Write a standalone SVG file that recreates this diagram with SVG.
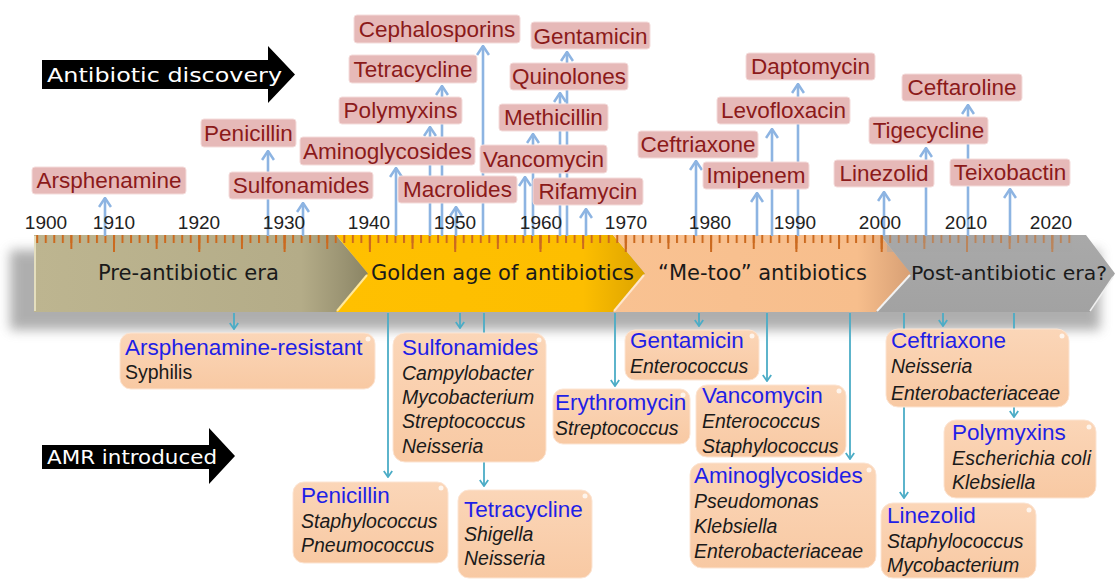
<svg xmlns="http://www.w3.org/2000/svg" width="1116" height="579" viewBox="0 0 1116 579">
<defs>
<style>
.tb{fill:#E6B9B8;stroke:#F4DCDB;stroke-width:1}
.tt{font-family:"Liberation Sans",Arial,sans-serif;font-size:22.5px;fill:#8B1A1A;text-anchor:middle}
.yr{font-family:"Liberation Sans",Arial,sans-serif;font-size:19px;fill:#222;text-anchor:middle}
.era{font-family:"DejaVu Sans",Verdana,sans-serif;font-size:22px;fill:#1a1a1a}
.pb{fill:url(#peach);stroke:#FCE4D2;stroke-width:1}
.bt{font-family:"Liberation Sans",Arial,sans-serif;font-size:22.5px;fill:#1F1FE6}
.sp{font-family:"Liberation Sans",Arial,sans-serif;font-size:19.5px;font-style:italic;fill:#1a1a1a}
.sr{font-family:"Liberation Sans",Arial,sans-serif;font-size:19.5px;fill:#1a1a1a}
.ca{stroke:#8DB4E2;stroke-width:2.6;fill:none;marker-end:url(#ma)}
.cb{stroke:#4BACC6;stroke-width:1.8;fill:none}
.cba{marker-end:url(#mb)}
.bl{font-family:"DejaVu Sans",sans-serif;fill:#fff;font-size:20px}
.glint{fill:#fff;opacity:0.75}
</style>
<marker id="ma" viewBox="0 0 12 14" refX="10.5" refY="7" markerWidth="12" markerHeight="14" markerUnits="userSpaceOnUse" orient="auto">
<path d="M1.5,1 L10.5,7 L1.5,13" fill="none" stroke="#8DB4E2" stroke-width="2.6"/>
</marker>
<marker id="mb" viewBox="0 0 8 10" refX="7" refY="5" markerWidth="8" markerHeight="10" markerUnits="userSpaceOnUse" orient="auto">
<path d="M1,0.8 L7,5 L1,9.2" fill="none" stroke="#4BACC6" stroke-width="1.8"/>
</marker>
<linearGradient id="peach" x1="0" y1="0" x2="0" y2="1">
<stop offset="0" stop-color="#FBD6B8"/>
<stop offset="1" stop-color="#F8C9A3"/>
</linearGradient>
<linearGradient id="gKhaki" x1="0" y1="0" x2="1" y2="0">
<stop offset="0" stop-color="#BDB590"/>
<stop offset="0.8" stop-color="#B4AC88"/>
<stop offset="0.93" stop-color="#9A9372"/>
<stop offset="1" stop-color="#8A8464"/>
</linearGradient>
<linearGradient id="gGold" x1="0" y1="0" x2="1" y2="0">
<stop offset="0" stop-color="#FFC000"/>
<stop offset="0.8" stop-color="#FDBE00"/>
<stop offset="1" stop-color="#DCA300"/>
</linearGradient>
<linearGradient id="gPeach" x1="0" y1="0" x2="1" y2="0">
<stop offset="0" stop-color="#F9C292"/>
<stop offset="0.82" stop-color="#F7BE8C"/>
<stop offset="1" stop-color="#D79F74"/>
</linearGradient>
<linearGradient id="gGray" x1="0" y1="0" x2="0" y2="1">
<stop offset="0" stop-color="#A9A9A9"/>
<stop offset="1" stop-color="#A2A2A2"/>
</linearGradient>
<filter id="blur" x="-5%" y="-30%" width="110%" height="160%">
<feGaussianBlur stdDeviation="6"/>
</filter>
<pattern id="tickS" patternUnits="userSpaceOnUse" x="36.23" y="235" width="8.53" height="8">
<rect x="0" y="0" width="2" height="8" fill="#CB6A1F"/>
</pattern>
<pattern id="tickM" patternUnits="userSpaceOnUse" x="27.7" y="235" width="42.65" height="14">
<rect x="0" y="0" width="2" height="14" fill="#CB6A1F"/>
</pattern>
<pattern id="tickL" patternUnits="userSpaceOnUse" x="27.7" y="235" width="85.3" height="17">
<rect x="0" y="0" width="2" height="17" fill="#CB6A1F"/>
</pattern>
</defs>

<rect x="0" y="0" width="1116" height="579" fill="#ffffff"/>

<!-- timeline band -->
<g id="timeline">
<rect x="10" y="250" width="1090" height="80" fill="#7a7a7a" opacity="0.6" filter="url(#blur)"/>
<g id="era-pre">
<path d="M34,235 L336,235 L368,273.5 L336,312 L34,312 Z" fill="url(#gKhaki)"/>
<path d="M35,236 V311" stroke="#E4DEBE" stroke-width="2"/>
<text class="era" x="98" y="280" textLength="181" lengthAdjust="spacingAndGlyphs">Pre-antibiotic era</text>
</g>
<g id="era-golden">
<path d="M336,235 L613,235 L645,273.5 L613,312 L336,312 L368,273.5 Z" fill="url(#gGold)"/>
<path d="M337,311 L367,275" stroke="#FFE89A" stroke-width="2"/>
<text class="era" x="371" y="280" textLength="263" lengthAdjust="spacingAndGlyphs">Golden age of antibiotics</text>
</g>
<g id="era-metoo">
<path d="M613,235 L880,235 L911,273.5 L880,312 L613,312 L645,273.5 Z" fill="url(#gPeach)"/>
<path d="M614,311 L644,275" stroke="#FFE6CC" stroke-width="2"/>
<text class="era" x="658" y="280" textLength="209" lengthAdjust="spacingAndGlyphs">“Me-too” antibiotics</text>
</g>
<g id="era-post">
<path d="M880,235 L1086,235 L1115,273.5 L1090,312 L876,312 L911,273.5 Z" fill="url(#gGray)"/>
<path d="M877,311 L910,275" stroke="#F2F2F2" stroke-width="2"/>
<path d="M1090,311 L1113,277" stroke="#F0F0F0" stroke-width="1.5"/>
<text class="era" x="911" y="280" style="font-size:20px" textLength="196" lengthAdjust="spacingAndGlyphs">Post-antibiotic era?</text>
</g>
<g id="ruler">
<rect x="36" y="235" width="1036" height="8" fill="url(#tickS)"/>
<rect x="36" y="235" width="1036" height="14" fill="url(#tickM)"/>
<rect x="36" y="235" width="1036" height="17" fill="url(#tickL)"/>
<path d="M887,235 L1072,235 L1072,252 L887,252 Z" fill="#A6A6A6" opacity="0.45"/>
</g>
</g>

<!-- connectors -->
<g id="connectors">
<path class="ca" d="M105,236 V198"/>
<path class="ca" d="M268,236 V151"/>
<path class="ca" d="M303,236 V203"/>
<path class="ca" d="M396,236 V168"/>
<path class="ca" d="M430,236 V127"/>
<path class="ca" d="M442,236 V86"/>
<path class="ca" d="M456,236 V207"/>
<path class="ca" d="M483,236 V46"/>
<path class="ca" d="M525,236 V177"/>
<path class="ca" d="M533,236 V134"/>
<path class="ca" d="M560,236 V93"/>
<path class="ca" d="M567,236 V52"/>
<path class="ca" d="M586,236 V209"/>
<path class="ca" d="M696,236 V161"/>
<path class="ca" d="M757,236 V193"/>
<path class="ca" d="M772,236 V129"/>
<path class="ca" d="M798,236 V84"/>
<path class="ca" d="M884,236 V192"/>
<path class="ca" d="M926,236 V148"/>
<path class="ca" d="M968,236 V105"/>
<path class="ca" d="M1010,236 V189"/>

<path class="cb cba" d="M234,313 V329"/>
<path class="cb cba" d="M388,313 V477"/>
<path class="cb cba" d="M460,313 V328"/>
<path class="cb cba" d="M484,313 V486"/>
<path class="cb cba" d="M615,313 V386"/>
<path class="cb cba" d="M699,313 V326"/>
<path class="cb cba" d="M767,313 V381"/>
<path class="cb cba" d="M850,313 V459"/>
<path class="cb cba" d="M904,313 V498"/>
<path class="cb cba" d="M943,313 V326"/>
<path class="cb cba" d="M1014,313 V417"/>
</g>

<!-- year labels -->
<g id="years">
<text class="yr" x="46" y="229">1900</text>
<text class="yr" x="114" y="229">1910</text>
<text class="yr" x="199" y="229">1920</text>
<text class="yr" x="284" y="229">1930</text>
<text class="yr" x="369" y="229">1940</text>
<text class="yr" x="455" y="229">1950</text>
<text class="yr" x="541" y="229">1960</text>
<text class="yr" x="626" y="229">1970</text>
<text class="yr" x="710" y="229">1980</text>
<text class="yr" x="795" y="229">1990</text>
<text class="yr" x="880" y="229">2000</text>
<text class="yr" x="966" y="229">2010</text>
<text class="yr" x="1051" y="229">2020</text>
</g>

<!-- discovery labels -->
<g id="d-cephalosporins"><rect class="tb" x="354" y="15" width="166" height="28" rx="3"/><text class="tt" x="437" y="37">Cephalosporins</text></g>
<g id="d-gentamicin"><rect class="tb" x="531" y="22" width="119" height="27" rx="3"/><text class="tt" x="590.5" y="44">Gentamicin</text></g>
<g id="d-tetracycline"><rect class="tb" x="349" y="55" width="128" height="28" rx="3"/><text class="tt" x="413" y="77">Tetracycline</text></g>
<g id="d-quinolones"><rect class="tb" x="510" y="63" width="118" height="27" rx="3"/><text class="tt" x="569" y="84">Quinolones</text></g>
<g id="d-polymyxins"><rect class="tb" x="339" y="97" width="123" height="27" rx="3"/><text class="tt" x="400.5" y="118">Polymyxins</text></g>
<g id="d-methicillin"><rect class="tb" x="499" y="104" width="109" height="27" rx="3"/><text class="tt" x="553.5" y="125">Methicillin</text></g>
<g id="d-penicillin"><rect class="tb" x="201" y="119" width="95" height="28" rx="3"/><text class="tt" x="248.5" y="141">Penicillin</text></g>
<g id="d-aminoglycosides"><rect class="tb" x="300" y="137" width="175" height="28" rx="3"/><text class="tt" x="387.5" y="159">Aminoglycosides</text></g>
<g id="d-vancomycin"><rect class="tb" x="480" y="145" width="127" height="28" rx="3"/><text class="tt" x="543.5" y="167">Vancomycin</text></g>
<g id="d-arsphenamine"><rect class="tb" x="32" y="167" width="154" height="27" rx="3"/><text class="tt" x="109" y="188">Arsphenamine</text></g>
<g id="d-sulfonamides"><rect class="tb" x="229" y="172" width="144" height="27" rx="3"/><text class="tt" x="301" y="193">Sulfonamides</text></g>
<g id="d-macrolides"><rect class="tb" x="398" y="176" width="119" height="27" rx="3"/><text class="tt" x="457.5" y="197">Macrolides</text></g>
<g id="d-rifamycin"><rect class="tb" x="533" y="178" width="110" height="27" rx="3"/><text class="tt" x="588" y="199">Rifamycin</text></g>
<g id="d-daptomycin"><rect class="tb" x="746" y="53" width="129" height="27" rx="3"/><text class="tt" x="810.5" y="74">Daptomycin</text></g>
<g id="d-ceftaroline"><rect class="tb" x="902" y="74" width="120" height="27" rx="3"/><text class="tt" x="962" y="95">Ceftaroline</text></g>
<g id="d-levofloxacin"><rect class="tb" x="717" y="97" width="133" height="27" rx="3"/><text class="tt" x="783.5" y="118">Levofloxacin</text></g>
<g id="d-tigecycline"><rect class="tb" x="869" y="117" width="119" height="27" rx="3"/><text class="tt" x="928.5" y="138">Tigecycline</text></g>
<g id="d-ceftriaxone"><rect class="tb" x="638" y="131" width="120" height="27" rx="3"/><text class="tt" x="698" y="152">Ceftriaxone</text></g>
<g id="d-imipenem"><rect class="tb" x="703" y="162" width="106" height="27" rx="3"/><text class="tt" x="756" y="183">Imipenem</text></g>
<g id="d-linezolid"><rect class="tb" x="834" y="160" width="100" height="27" rx="3"/><text class="tt" x="884" y="181">Linezolid</text></g>
<g id="d-teixobactin"><rect class="tb" x="950" y="159" width="120" height="27" rx="3"/><text class="tt" x="1010" y="180">Teixobactin</text></g>

<!-- AMR boxes -->
<g id="r-arsphenamine"><rect class="pb" x="120" y="333" width="255" height="56" rx="11"/><circle class="glint" cx="368" cy="339" r="2.5"/><text class="bt" x="125" y="355">Arsphenamine-resistant</text><text class="sr" x="125" y="379">Syphilis</text></g>
<g id="r-sulfonamides"><rect class="pb" x="393" y="333" width="153" height="129" rx="12"/><circle class="glint" cx="539" cy="340" r="2.5"/><text class="bt" x="402" y="355">Sulfonamides</text><text class="sp" x="402" y="380">Campylobacter</text><text class="sp" x="402" y="404">Mycobacterium</text><text class="sp" x="402" y="428">Streptococcus</text><text class="sp" x="402" y="453">Neisseria</text></g>
<g id="r-penicillin"><rect class="pb" x="293" y="482" width="155" height="81" rx="11"/><circle class="glint" cx="441" cy="488" r="2.5"/><text class="bt" x="301" y="503">Penicillin</text><text class="sp" x="301" y="528">Staphylococcus</text><text class="sp" x="301" y="552">Pneumococcus</text></g>
<g id="r-tetracycline"><rect class="pb" x="458" y="490" width="134" height="88" rx="11"/><circle class="glint" cx="585" cy="496" r="2.5"/><text class="bt" x="464" y="517">Tetracycline</text><text class="sp" x="464" y="541">Shigella</text><text class="sp" x="464" y="565">Neisseria</text></g>
<g id="r-erythromycin"><rect class="pb" x="553" y="389" width="137" height="55" rx="10"/><circle class="glint" cx="683" cy="395" r="2.5"/><text class="bt" x="555" y="410">Erythromycin</text><text class="sp" x="555" y="435">Streptococcus</text></g>
<g id="r-gentamicin"><rect class="pb" x="625" y="330" width="134" height="50" rx="10"/><circle class="glint" cx="752" cy="336" r="2.5"/><text class="bt" x="630" y="348">Gentamicin</text><text class="sp" x="630" y="373">Enterococcus</text></g>
<g id="r-vancomycin"><rect class="pb" x="696" y="385" width="150" height="72" rx="11"/><circle class="glint" cx="839" cy="391" r="2.5"/><text class="bt" x="702" y="403">Vancomycin</text><text class="sp" x="702" y="428">Enterococcus</text><text class="sp" x="702" y="453">Staphylococcus</text></g>
<g id="r-aminoglycosides"><rect class="pb" x="690" y="463" width="186" height="105" rx="12"/><circle class="glint" cx="869" cy="470" r="2.5"/><text class="bt" x="694" y="483">Aminoglycosides</text><text class="sp" x="694" y="508">Pseudomonas</text><text class="sp" x="694" y="533">Klebsiella</text><text class="sp" x="694" y="558">Enterobacteriaceae</text></g>
<g id="r-ceftriaxone"><rect class="pb" x="886" y="329" width="183" height="78" rx="12"/><circle class="glint" cx="1062" cy="336" r="2.5"/><text class="bt" x="891" y="348">Ceftriaxone</text><text class="sp" x="891" y="373">Neisseria</text><text class="sp" x="891" y="400">Enterobacteriaceae</text></g>
<g id="r-polymyxins"><rect class="pb" x="944" y="420" width="152" height="78" rx="12"/><circle class="glint" cx="1089" cy="427" r="2.5"/><text class="bt" x="952" y="440">Polymyxins</text><text class="sp" x="952" y="465" textLength="139" lengthAdjust="spacing">Escherichia coli</text><text class="sp" x="952" y="489">Klebsiella</text></g>
<g id="r-linezolid"><rect class="pb" x="881" y="503" width="155" height="75" rx="12"/><circle class="glint" cx="1029" cy="510" r="2.5"/><text class="bt" x="887" y="523">Linezolid</text><text class="sp" x="887" y="548">Staphylococcus</text><text class="sp" x="887" y="572">Mycobacterium</text></g>

<!-- black arrows -->
<g id="arrow-discovery">
<path d="M42,60 L268,60 L268,46 L295,74.5 L268,103 L268,89 L42,89 Z" fill="#000"/>
<text class="bl" x="47" y="82" textLength="235" lengthAdjust="spacingAndGlyphs">Antibiotic discovery</text>
</g>
<g id="arrow-amr">
<path d="M42,445 L209,445 L209,428 L235,456 L209,484 L209,469 L42,469 Z" fill="#000"/>
<text class="bl" x="47" y="464" style="font-size:19px" textLength="170" lengthAdjust="spacingAndGlyphs">AMR introduced</text>
</g>
</svg>
